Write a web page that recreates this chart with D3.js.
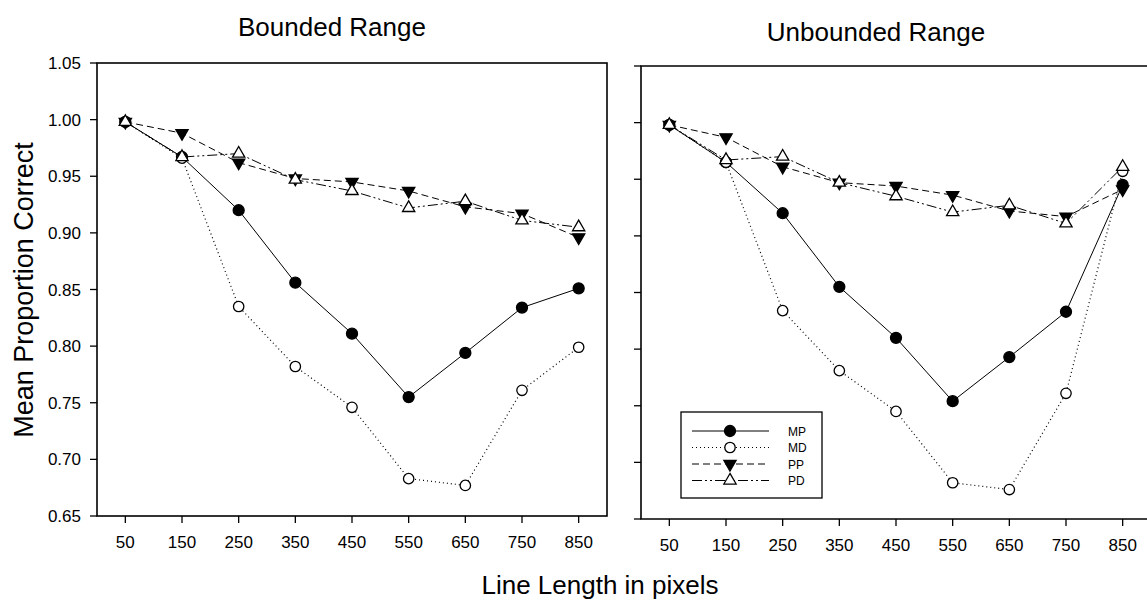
<!DOCTYPE html>
<html>
<head>
<meta charset="utf-8">
<script src="https://cdn.jsdelivr.net/npm/d3@7"></script>
<style>
    body { margin: 0; background: #fff; }
    text { font-family: "Liberation Sans", Arial, sans-serif; fill: #000; }
</style>
</head>
<body>
<div id="scene"></div>
<script>
const lineLengths = [50, 150, 250, 350, 450, 550, 650, 750, 850];
const yTickValues = [0.65, 0.70, 0.75, 0.80, 0.85, 0.90, 0.95, 1.00, 1.05];
const seriesNames = ['MP', 'MD', 'PP', 'PD'];

// bounded range
const boundedMP = [0.998, 0.967, 0.920, 0.856, 0.811, 0.755, 0.794, 0.834, 0.851];
const boundedMD = [0.998, 0.966, 0.835, 0.782, 0.746, 0.683, 0.677, 0.761, 0.799];
const boundedPP = [0.998, 0.988, 0.962, 0.948, 0.945, 0.937, 0.923, 0.917, 0.896];
const boundedPD = [0.998, 0.967, 0.970, 0.947, 0.937, 0.922, 0.928, 0.911, 0.905];

// unbounded range
const unboundedMP = [0.998, 0.965, 0.920, 0.855, 0.810, 0.754, 0.793, 0.833, 0.945];
const unboundedMD = [0.998, 0.965, 0.834, 0.781, 0.745, 0.682, 0.676, 0.761, 0.957];
const unboundedPP = [0.998, 0.987, 0.961, 0.947, 0.944, 0.936, 0.922, 0.917, 0.941];
const unboundedPD = [0.998, 0.967, 0.970, 0.947, 0.935, 0.921, 0.927, 0.911, 0.961];

const width = 1147;
const height = 603;

const styles = {
    MP: { dash: null, symbol: d3.symbolCircle, size: 95, fill: '#000', rotate: 0 },
    MD: { dash: '1,3', symbol: d3.symbolCircle, size: 85, fill: '#fff', rotate: 0 },
    PP: { dash: '7,4', symbol: d3.symbolTriangle, size: 65, fill: '#000', rotate: 180 },
    PD: { dash: '10,3,2,3,2,3', symbol: d3.symbolTriangle, size: 65, fill: '#fff', rotate: 0 },
};

const svg = d3.select('#scene')
    .append('svg')
    .attr('width', width)
    .attr('height', height);

const drawPanel = (panel) => {
    const xScale = d3.scaleLinear().domain([0, 900]).range([panel.left, panel.right]);
    const yScale = d3.scaleLinear().domain([0.65, 1.05]).range([panel.bottom, panel.top]);
    const g = svg.append('g');

    // frame
    if (panel.closed) {
        g.append('rect')
            .attr('x', panel.left).attr('y', panel.top)
            .attr('width', panel.right - panel.left).attr('height', panel.bottom - panel.top)
            .attr('fill', 'none').attr('stroke', '#000').attr('stroke-width', 1.6);
    } else {
        g.append('path')
            .attr('d', d3.line()([[panel.right, panel.top], [panel.left, panel.top], [panel.left, panel.bottom], [panel.right, panel.bottom]]))
            .attr('fill', 'none').attr('stroke', '#000').attr('stroke-width', 1.6);
    }

    g.selectAll('.xTicks')
        .data(lineLengths)
        .enter().append('line')
        .attr('x1', d => xScale(d)).attr('x2', d => xScale(d))
        .attr('y1', panel.bottom).attr('y2', panel.bottom + 7)
        .attr('stroke', '#000').attr('stroke-width', 1.3);

    g.selectAll('.xLabel')
        .data(lineLengths)
        .enter().append('text')
        .attr('x', d => xScale(d))
        .attr('y', panel.bottom + 32)
        .attr('text-anchor', 'middle')
        .attr('font-size', 17)
        .text(String);

    g.selectAll('.yTicks')
        .data(yTickValues)
        .enter().append('line')
        .attr('x1', panel.left - 7).attr('x2', panel.left)
        .attr('y1', d => yScale(d)).attr('y2', d => yScale(d))
        .attr('stroke', '#000').attr('stroke-width', 1.3);

    if (panel.yLabels) {
        g.selectAll('.yLabel')
            .data(yTickValues)
            .enter().append('text')
            .attr('x', panel.left - 16)
            .attr('y', d => yScale(d))
            .attr('dy', 6)
            .attr('text-anchor', 'end')
            .attr('font-size', 17)
            .text(d => d.toFixed(2));
    }

    g.append('text')
        .attr('x', panel.titleX)
        .attr('y', panel.titleY)
        .attr('text-anchor', 'middle')
        .attr('font-size', 26)
        .text(panel.title);

    const line = d3.line()
        .x((d, i) => xScale(lineLengths[i]))
        .y(d => yScale(d));

    seriesNames.forEach(name => {
        g.append('path')
            .datum(panel.series[name])
            .attr('d', line)
            .attr('fill', 'none')
            .attr('stroke', '#000')
            .attr('stroke-width', name === 'MD' ? 1.2 : 1)
            .attr('stroke-dasharray', styles[name].dash);
    });

    seriesNames.forEach(name => {
        const st = styles[name];
        g.selectAll('.pt' + name)
            .data(panel.series[name])
            .enter().append('path')
            .attr('d', d3.symbol().type(st.symbol).size(st.size))
            .attr('transform', (d, i) => `translate(${xScale(lineLengths[i])},${yScale(d)}) rotate(${st.rotate})`)
            .attr('fill', st.fill)
            .attr('stroke', '#000')
            .attr('stroke-width', 1.3);
    });
};

drawPanel({
    left: 97, right: 607, top: 63, bottom: 516, closed: true, yLabels: true,
    title: 'Bounded Range', titleX: 332, titleY: 36,
    series: { MP: boundedMP, MD: boundedMD, PP: boundedPP, PD: boundedPD },
});

drawPanel({
    left: 641, right: 1151, top: 66, bottom: 519, closed: false, yLabels: false,
    title: 'Unbounded Range', titleX: 876, titleY: 41,
    series: { MP: unboundedMP, MD: unboundedMD, PP: unboundedPP, PD: unboundedPD },
});

// legend
const legend = svg.append('g');
legend.append('rect')
    .attr('x', 681).attr('y', 412)
    .attr('width', 141).attr('height', 86)
    .attr('fill', '#fff').attr('stroke', '#000').attr('stroke-width', 1.3);

seriesNames.forEach((name, i) => {
    const st = styles[name];
    const y = 431 + i * 16.5;
    legend.append('line')
        .attr('x1', 692).attr('x2', 769)
        .attr('y1', y).attr('y2', y)
        .attr('stroke', '#000')
        .attr('stroke-width', name === 'MD' ? 1.2 : 1)
        .attr('stroke-dasharray', st.dash);
    legend.append('path')
        .attr('d', d3.symbol().type(st.symbol).size(st.size)())
        .attr('transform', `translate(730,${y}) rotate(${st.rotate})`)
        .attr('fill', st.fill)
        .attr('stroke', '#000')
        .attr('stroke-width', 1.3);
    legend.append('text')
        .attr('x', 788).attr('y', y)
        .attr('dy', 4.5)
        .attr('font-size', 12)
        .text(name);
});

// axis titles
svg.append('text')
    .attr('transform', 'translate(33,290) rotate(-90)')
    .attr('text-anchor', 'middle')
    .attr('font-size', 27)
    .text('Mean Proportion Correct');

svg.append('text')
    .attr('x', 600)
    .attr('y', 594)
    .attr('text-anchor', 'middle')
    .attr('font-size', 26)
    .text('Line Length in pixels');
</script>
</body>
</html>
